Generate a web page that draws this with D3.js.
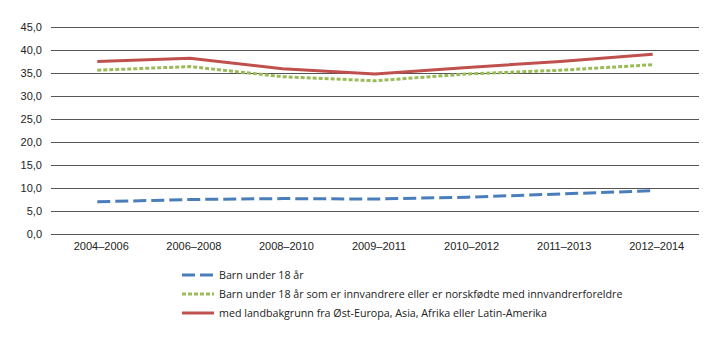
<!DOCTYPE html>
<html>
<head>
<meta charset="utf-8">
<script src="https://cdn.jsdelivr.net/npm/d3@7/dist/d3.min.js"></script>
<style>
  html, body { margin: 0; padding: 0; background: #fff; }
  svg { display: block; font-family: "Open Sans", "Noto Sans", sans-serif; }
</style>
</head>
<body>
<svg id="chart" width="720" height="341"></svg>
<script>
// Periods on the x axis
const periods = ["2004–2006", "2006–2008", "2008–2010", "2009–2011", "2010–2012", "2011–2013", "2012–2014"];

// Share (per cent) for each group
const barnUnder18 = [7.0, 7.5, 7.7, 7.6, 8.0, 8.7, 9.4];
const innvandrere = [35.6, 36.4, 34.2, 33.3, 34.8, 35.6, 36.8];
const landbakgrunn = [37.5, 38.2, 35.9, 34.8, 36.2, 37.5, 39.1];

const yTicks = [0, 5, 10, 15, 20, 25, 30, 35, 40, 45];

const seriesNames = [
  "Barn under 18 år",
  "Barn under 18 år som er innvandrere eller er norskfødte med innvandrerforeldre",
  "med landbakgrunn fra Øst-Europa, Asia, Afrika eller Latin-Amerika"
];

const series = [
  { name: seriesNames[0], values: barnUnder18, color: "#4a7ebb", dash: "13,5" },
  { name: seriesNames[1], values: innvandrere, color: "#9bbb59", dash: "4,2" },
  { name: seriesNames[2], values: landbakgrunn, color: "#c0504d", dash: null }
];

const svg = d3.select("#chart");
const margin = { left: 51, right: 21, top: 27, bottom: 107 };
const width = 720, height = 341;

const x = d3.scaleBand().domain(periods).range([margin.left, width - margin.right]);
const y = d3.scaleLinear().domain([0, 45]).range([height - margin.bottom, margin.top]);

// Horizontal grid lines
svg.append("g")
  .selectAll("line")
  .data(yTicks)
  .join("line")
  .attr("x1", margin.left)
  .attr("x2", width - margin.right)
  .attr("y1", d => Math.round(y(d)) + 0.5)
  .attr("y2", d => Math.round(y(d)) + 0.5)
  .attr("stroke", "#555")
  .attr("stroke-width", 1);

// Y axis labels
const yAxis = d3.axisLeft(y)
  .tickValues(yTicks)
  .tickSize(0)
  .tickPadding(9)
  .tickFormat(d => d3.format(".1f")(d).replace(".", ","));
svg.append("g")
  .attr("transform", `translate(${margin.left},0)`)
  .call(yAxis)
  .call(g => g.select(".domain").remove())
  .call(g => g.selectAll("text").attr("font-size", 11).attr("fill", "#222").attr("font-family", "inherit"));

// X axis labels
const xAxis = d3.axisBottom(x).tickSize(0).tickPadding(8);
svg.append("g")
  .attr("transform", `translate(0,${height - margin.bottom})`)
  .call(xAxis)
  .call(g => g.select(".domain").remove())
  .call(g => g.selectAll("text").attr("font-size", 11).attr("fill", "#222").attr("font-family", "inherit").attr("dx", 4));

// Series lines
const line = d3.line()
  .x((d, i) => x(periods[i]) + x.bandwidth() / 2)
  .y(d => y(d));

svg.append("g")
  .selectAll("path")
  .data(series)
  .join("path")
  .attr("d", d => line(d.values))
  .attr("fill", "none")
  .attr("stroke", d => d.color)
  .attr("stroke-width", 3)
  .attr("stroke-dasharray", d => d.dash)
  .attr("stroke-linejoin", "round");

// Legend
const legend = svg.append("g").attr("transform", "translate(182,275)");
const rows = legend.selectAll("g")
  .data(series)
  .join("g")
  .attr("transform", (d, i) => `translate(0,${i * 19})`);
rows.append("line")
  .attr("x1", 0).attr("x2", 32)
  .attr("y1", 0).attr("y2", 0)
  .attr("stroke", d => d.color)
  .attr("stroke-width", 3)
  .attr("stroke-dasharray", d => d.dash);
rows.append("text")
  .attr("x", 37)
  .attr("y", 0)
  .attr("dy", "0.35em")
  .attr("font-size", 10.7)
  .attr("fill", "#222")
  .text(d => d.name);
</script>
</body>
</html>
